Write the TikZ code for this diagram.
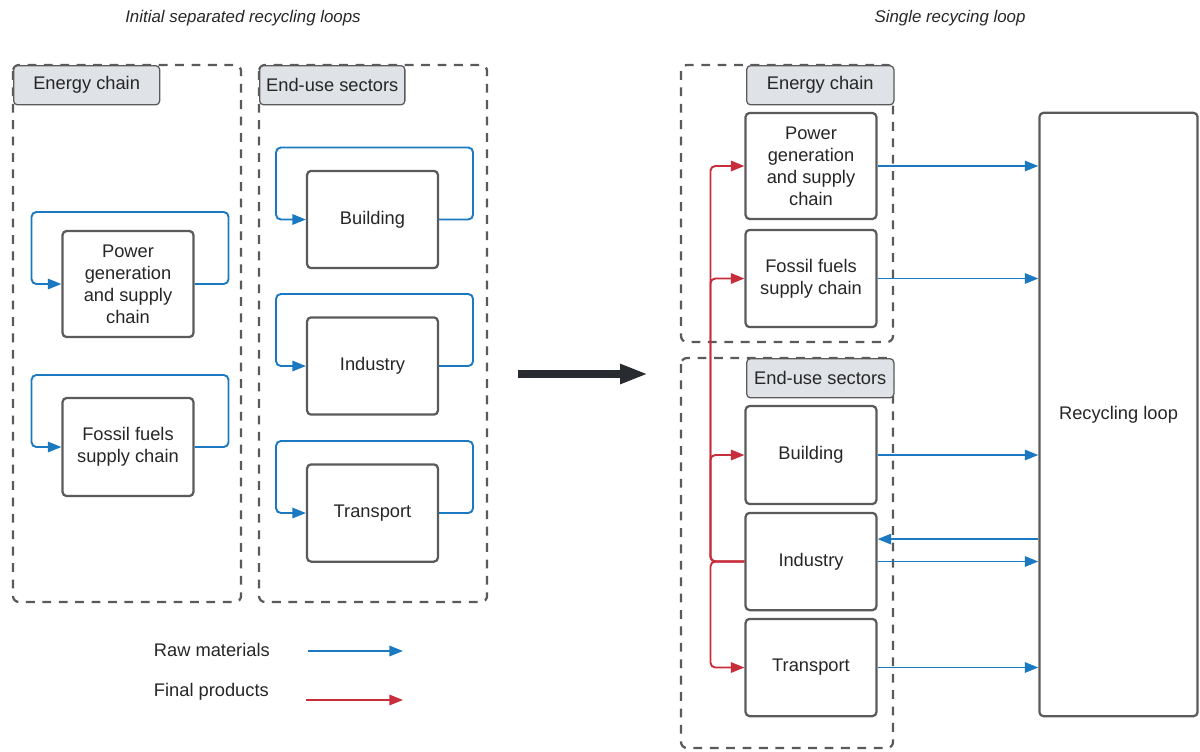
\documentclass[tikz,border=0pt]{standalone}
\usepackage{fontspec}
\setmainfont{Liberation Sans}
\usetikzlibrary{arrows.meta}

\definecolor{rawblue}{RGB}{27,121,193}
\definecolor{finred}{RGB}{200,45,60}
\definecolor{boxgray}{RGB}{90,90,90}
\definecolor{tabfill}{RGB}{223,226,230}
\definecolor{bigdark}{RGB}{40,44,48}

\begin{document}
\begin{tikzpicture}[x=0.025cm, y=-0.025cm,
        every node/.style={font=\fontsize{13}{15.6}\selectfont, text=black!85},
        sector/.style={draw=boxgray, line width=1.6pt, rounded corners=0.1cm, align=center, minimum width=3.27cm, inner sep=0pt},
        group/.style={draw=boxgray, line width=1.6pt, dash pattern=on 0.22cm off 0.19cm, rounded corners=0.15cm},
        tab/.style={draw=boxgray, fill=tabfill, line width=0.9pt, rounded corners=0.1cm, minimum height=0.98cm, anchor=north west, inner sep=0pt},
        raw/.style={draw=rawblue, line width=1.35pt, rounded corners=0.12cm, -{Triangle[length=0.34cm, width=0.26cm]}},
        fin/.style={draw=finred, line width=1.35pt, rounded corners=0.12cm, -{Triangle[length=0.34cm, width=0.26cm]}},
        title/.style={font=\fontsize{12}{14}\selectfont\itshape}]
        \useasboundingbox (0,0) rectangle (1200,751);

        % Titles
        \node (h1) at (243,18) [title] {Initial separated recycling loops};
        \node (h2) at (950,18) [title] {Single recycing loop};

        % Groups
        \draw[group] (13,65) rectangle (241,602);
        \draw[group] (259,65) rectangle (487,602);
        \draw[group] (681,65) rectangle (893,342);
        \draw[group] (681,358) rectangle (893,748);
        \node (t1) at (13,65) [tab, minimum width=3.65cm] {Energy chain};
        \node (t2) at (259,65) [tab, minimum width=3.63cm] {End-use sectors};
        \node (t3) at (746,65) [tab, minimum width=3.68cm] {Energy chain};
        \node (t4) at (746,358) [tab, minimum width=3.68cm] {End-use sectors};

        % Nodes (left)
        \node (lp1) at (128,284) [sector, minimum height=2.65cm] {Power\\generation\\and supply\\chain};
        \node (lp2) at (128,447) [sector, minimum height=2.45cm] {Fossil fuels\\supply chain};
        \node (lp3) at (372.5,219.5) [sector, minimum height=2.43cm] {Building};
        \node (lp4) at (372.5,366) [sector, minimum height=2.43cm] {Industry};
        \node (lp5) at (372.5,513) [sector, minimum height=2.43cm] {Transport};

        % Nodes (right)
        \node (rp1) at (811,166) [sector, minimum height=2.65cm] {Power\\generation\\and supply\\chain};
        \node (rp2) at (811,278.5) [sector, minimum height=2.43cm] {Fossil fuels\\supply chain};
        \node (rp3) at (811,455) [sector, minimum height=2.45cm] {Building};
        \node (rp4) at (811,561.5) [sector, minimum height=2.43cm] {Industry};
        \node (rp5) at (811,667.5) [sector, minimum height=2.43cm] {Transport};
        \node (rec) at (1118.5,414.5) [sector, minimum width=3.95cm, minimum height=15.08cm] {Recycling loop};

        % Legend
        \node (k1) at (149,650) [anchor=west] {Raw materials};
        \node (k2) at (149,692) [anchor=west] {Final products};
        \coordinate (k1a) at (308,651);
        \coordinate (k1b) at (403,651);
        \coordinate (k2a) at (306,700);
        \coordinate (k2b) at (403,700);

        % Big arrow
        \coordinate (a1) at (518,374);
        \coordinate (a2) at (648,374);

        % Edges
        \foreach \i in {1,2,3,4,5} {
            \draw[raw] (lp\i.east) -- ++(34,0) -- ++(0,-72) -- ++(-197,0) -- ++(0,72) -- (lp\i.west);
        }
        \foreach \i in {1,2,3,5} {
            \draw[fin] (rp4.west) -- ++(-34,0) |- (rp\i.west);
        }
        \foreach \i in {1,2,3,4,5} {
            \draw[raw] (rp\i.east) -- (rp\i.east -| rec.west);
        }
        \coordinate (back) at ([yshift=0.56cm]rp4.east);
        \draw[raw] (back -| rec.west) -- (back);
        \draw[raw] (k1a) -- (k1b);
        \draw[fin] (k2a) -- (k2b);
        \draw[bigdark, line width=0.18cm, -{Triangle[length=0.7cm, width=0.46cm]}] (a1) -- (a2);

    \end{tikzpicture}
\end{document}
